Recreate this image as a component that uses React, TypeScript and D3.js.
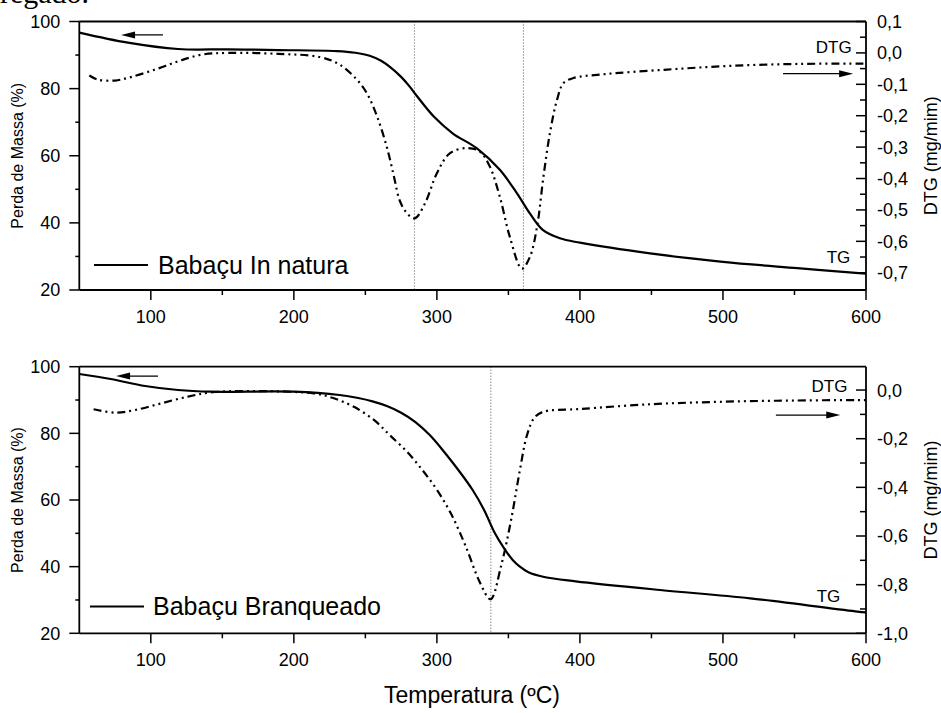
import React from 'react';
import * as d3 from 'd3';

const FONT = 'Liberation Sans, Arial, Helvetica, sans-serif';

// Babaçu In natura (top panel)
const tgNaturaTemp = [50, 84, 119, 154, 189, 230, 243, 253, 261, 268, 275, 281, 286, 298, 311, 328, 344, 356, 365, 374, 386, 400, 449, 500, 552, 595, 600];
const tgNaturaMass = [96.7, 93.7, 91.8, 91.7, 91.5, 91.2, 90.7, 89.8, 88.3, 86.2, 83.5, 80.6, 77.8, 71.6, 66.7, 62.2, 55.8, 48.8, 42.8, 37.9, 35.4, 34.1, 30.9, 28.4, 26.5, 25.0, 24.9];
const dtgNaturaTemp = [57, 63, 75, 86, 103, 119, 135, 154, 189, 218, 232, 244, 251, 258, 265, 270, 274, 279, 284.5, 291.7, 300, 309, 321, 330, 337, 344, 351, 359.4, 365, 370, 374.5, 379, 384, 388.5, 395.5, 414, 461, 507, 554, 600];
const dtgNaturaRate = [-0.072, -0.085, -0.088, -0.077, -0.053, -0.027, -0.006, 0.0, -0.003, -0.013, -0.037, -0.085, -0.128, -0.2, -0.3, -0.394, -0.47, -0.51, -0.527, -0.479, -0.383, -0.32, -0.303, -0.314, -0.362, -0.458, -0.586, -0.687, -0.65, -0.554, -0.394, -0.256, -0.149, -0.096, -0.08, -0.069, -0.053, -0.041, -0.035, -0.034];

// Babaçu Branqueado (bottom panel)
const tgBranqTemp = [50, 72, 96, 119, 142, 200, 232, 245, 255, 265, 275, 285, 295, 305, 315, 325, 333, 340, 347, 353, 358, 364, 375, 397, 456, 519, 594, 600];
const tgBranqMass = [97.8, 96.3, 94.2, 93.0, 92.5, 92.5, 91.5, 90.6, 89.6, 88.2, 86.2, 83.4, 79.5, 74.5, 69.0, 63.0, 57.0, 50.5, 45.5, 42.0, 40.0, 38.3, 36.9, 35.6, 33.0, 30.5, 26.5, 26.3];
const dtgBranqTemp = [60, 75, 89, 107, 126, 142, 166, 214, 228, 242, 256, 267, 279, 290, 300, 310, 320, 330, 337.5, 345, 352, 358, 363, 368, 374, 400, 450, 500, 550, 600];
const dtgBranqRate = [-0.079, -0.093, -0.082, -0.055, -0.027, -0.01, -0.004, -0.014, -0.034, -0.069, -0.123, -0.185, -0.253, -0.33, -0.41, -0.51, -0.64, -0.79, -0.86, -0.72, -0.53, -0.33, -0.185, -0.115, -0.09, -0.078, -0.058, -0.048, -0.043, -0.041];

// axes
const tempTicks = [100, 200, 300, 400, 500, 600];
const tempMinorTicks = [150, 250, 350, 450, 550];
const massTicks = [20, 40, 60, 80, 100];
const massMinorTicks = [30, 50, 70, 90];
const dtgNaturaTicks = [0.1, 0, -0.1, -0.2, -0.3, -0.4, -0.5, -0.6, -0.7];
const dtgNaturaMinor = [0.05, -0.05, -0.15, -0.25, -0.35, -0.45, -0.55, -0.65];
const dtgBranqTicks = [0, -0.2, -0.4, -0.6, -0.8, -1.0];
const dtgBranqMinor = [-0.1, -0.3, -0.5, -0.7, -0.9];

// peak temperatures (dotted guides)
const peaksNatura = [284.3, 360.5];
const peaksBranq = [337.7];

const fmtDtg = (v: number) => v.toFixed(1).replace('.', ',');

const x = d3.scaleLinear().domain([50, 600]).range([79.3, 866]);

const Arrow = ({ from, to, y }: { from: number; to: number; y: number }) => {
  const dir = to > from ? 1 : -1;
  const head = 14;
  return (
    <g>
      <line x1={from} y1={y} x2={to - dir * head * 0.6} y2={y} stroke="#000" strokeWidth={1.2} />
      <polygon
        points={`${to},${y} ${to - dir * head},${y - 3.5} ${to - dir * head},${y + 3.5}`}
        fill="#000"
      />
    </g>
  );
};

type PanelProps = {
  top: number;
  bottom: number;
  tgT: number[];
  tgV: number[];
  dtgT: number[];
  dtgV: number[];
  dtgDomain: [number, number];
  dtgTicks: number[];
  dtgMinor: number[];
  peaks: number[];
  legend: string;
  legendLine: [number, number, number];
  legendText: [number, number];
  massArrow: [number, number, number];
  dtgArrow: [number, number, number];
  dtgLabel: [number, number];
  tgLabel: [number, number];
};

const Panel = (p: PanelProps) => {
  const { top, bottom } = p;
  const yL = d3.scaleLinear().domain([20, 100]).range([bottom, top]);
  const yR = d3.scaleLinear().domain(p.dtgDomain).range([bottom, top]);
  const left = x.range()[0];
  const right = x.range()[1];

  const tgLine = d3
    .line<number>()
    .x((_, i) => x(p.tgT[i]))
    .y((d) => yL(d))
    .curve(d3.curveCatmullRom.alpha(0.5));
  const dtgLine = d3
    .line<number>()
    .x((_, i) => x(p.dtgT[i]))
    .y((d) => yR(d))
    .curve(d3.curveCatmullRom.alpha(0.5));

  const cy = (top + bottom) / 2;

  return (
    <g fontFamily={FONT} fill="#000">
      {/* peak guides */}
      {p.peaks.map((t, i) => (
        <line key={i} x1={x(t)} x2={x(t)} y1={top} y2={bottom} stroke="#555" strokeWidth={1} strokeDasharray="1,2" />
      ))}

      {/* curves */}
      <path d={dtgLine(p.dtgV) || ''} fill="none" stroke="#000" strokeWidth={2.2} strokeDasharray="8,4,2,4,2,4" />
      <path d={tgLine(p.tgV) || ''} fill="none" stroke="#000" strokeWidth={2.2} />

      {/* frame */}
      <line x1={left} x2={right} y1={top} y2={top} stroke="#000" strokeWidth={1.8} />
      <line x1={left} x2={right} y1={bottom} y2={bottom} stroke="#000" strokeWidth={1.8} />
      <line x1={left} x2={left} y1={top} y2={bottom} stroke="#000" strokeWidth={1.8} />
      <line x1={right} x2={right} y1={top} y2={bottom} stroke="#000" strokeWidth={1.8} />

      {/* bottom axis */}
      {tempTicks.map((t) => (
        <g key={t}>
          <line x1={x(t)} x2={x(t)} y1={bottom} y2={bottom + 10} stroke="#000" strokeWidth={1.5} />
          <text x={x(t)} y={bottom + 33} fontSize={18} textAnchor="middle">{t}</text>
        </g>
      ))}
      {tempMinorTicks.map((t) => (
        <line key={t} x1={x(t)} x2={x(t)} y1={bottom} y2={bottom + 5} stroke="#000" strokeWidth={1.5} />
      ))}

      {/* left axis */}
      {massTicks.map((v) => (
        <g key={v}>
          <line x1={left - 10} x2={left} y1={yL(v)} y2={yL(v)} stroke="#000" strokeWidth={1.5} />
          <text x={left - 19} y={yL(v)} dy="0.36em" fontSize={18} textAnchor="end">{v}</text>
        </g>
      ))}
      {massMinorTicks.map((v) => (
        <line key={v} x1={left - 4} x2={left} y1={yL(v)} y2={yL(v)} stroke="#000" strokeWidth={1.5} />
      ))}
      <text transform={`translate(23,${cy}) rotate(-90)`} fontSize={16} textAnchor="middle">Perda de Massa (%)</text>

      {/* right axis */}
      {p.dtgTicks.map((v) => (
        <g key={v}>
          <line x1={right - 10} x2={right} y1={yR(v)} y2={yR(v)} stroke="#000" strokeWidth={1.5} />
          <text x={right + 11} y={yR(v)} dy="0.36em" fontSize={18}>{fmtDtg(v)}</text>
        </g>
      ))}
      {p.dtgMinor.map((v) => (
        <line key={v} x1={right - 6} x2={right} y1={yR(v)} y2={yR(v)} stroke="#000" strokeWidth={1.5} />
      ))}
      <text transform={`translate(937,${cy}) rotate(-90)`} fontSize={18} textAnchor="middle">DTG (mg/mim)</text>

      {/* arrows */}
      <Arrow from={x(p.massArrow[1])} to={x(p.massArrow[0])} y={yL(p.massArrow[2])} />
      <Arrow from={x(p.dtgArrow[0])} to={x(p.dtgArrow[1])} y={yR(p.dtgArrow[2])} />

      {/* curve labels */}
      <text x={x(p.dtgLabel[0])} y={yR(p.dtgLabel[1])} fontSize={17} textAnchor="end">DTG</text>
      <text x={x(p.tgLabel[0])} y={yL(p.tgLabel[1])} fontSize={17} textAnchor="end">TG</text>

      {/* legend */}
      <line x1={p.legendLine[0]} x2={p.legendLine[1]} y1={p.legendLine[2]} y2={p.legendLine[2]} stroke="#000" strokeWidth={2.2} />
      <text x={p.legendText[0]} y={p.legendText[1]} fontSize={25}>{p.legend}</text>
    </g>
  );
};

const App = () => {
  return (
    <svg
      width={941}
      height={713}
      viewBox="0 0 941 713"
      style={{ position: 'absolute', left: 0, top: 0, background: '#fff' }}
    >
      <rect width={941} height={713} fill="#fff" />
      <text x={0} y={3} fontSize={30} fontFamily="Liberation Serif, Times New Roman, serif">regado.</text>

      <Panel
        top={21.5}
        bottom={290}
        tgT={tgNaturaTemp}
        tgV={tgNaturaMass}
        dtgT={dtgNaturaTemp}
        dtgV={dtgNaturaRate}
        dtgDomain={[-0.755, 0.1]}
        dtgTicks={dtgNaturaTicks}
        dtgMinor={dtgNaturaMinor}
        peaks={peaksNatura}
        legend="Babaçu In natura"
        legendLine={[94, 148, 265]}
        legendText={[158, 273.5]}
        massArrow={[79.2, 108.5, 96.0]}
        dtgArrow={[542, 591, -0.066]}
        dtgLabel={[590, 0.001]}
        tgLabel={[589, 28.0]}
      />

      <Panel
        top={366.7}
        bottom={633.3}
        tgT={tgBranqTemp}
        tgV={tgBranqMass}
        dtgT={dtgBranqTemp}
        dtgV={dtgBranqRate}
        dtgDomain={[-1.0, 0.096]}
        dtgTicks={dtgBranqTicks}
        dtgMinor={dtgBranqMinor}
        peaks={peaksBranq}
        legend="Babaçu Branqueado"
        legendLine={[90, 144, 606.5]}
        legendText={[153, 615]}
        massArrow={[75.7, 105, 97.2]}
        dtgArrow={[537, 582, -0.103]}
        dtgLabel={[587, -0.008]}
        tgLabel={[582, 29.4]}
      />

      <text x={472} y={703} fontSize={23} fontFamily={FONT} textAnchor="middle">Temperatura (ºC)</text>
    </svg>
  );
};

export default App;
